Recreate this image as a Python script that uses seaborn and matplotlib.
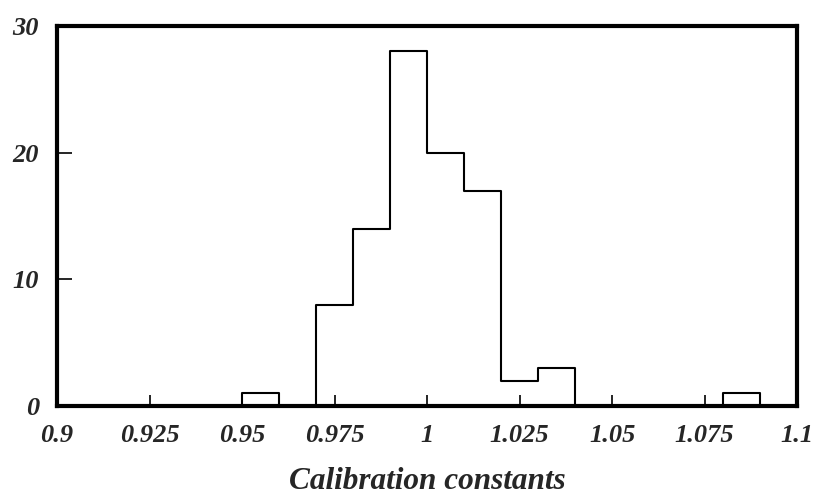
import numpy as np
import pandas as pd
import seaborn as sns
import matplotlib
matplotlib.use("Agg")
import matplotlib.pyplot as plt

# histogram counts (bin width 0.01)
bin_left = [0.95, 0.97, 0.98, 0.99, 1.00, 1.01, 1.02, 1.03, 1.08]
counts = [1, 8, 14, 28, 20, 17, 2, 3, 1]
x_ticks = [0.9, 0.925, 0.95, 0.975, 1.0, 1.025, 1.05, 1.075, 1.1]
x_tick_labels = ["0.9", "0.925", "0.95", "0.975", "1", "1.025", "1.05", "1.075", "1.1"]
y_ticks = [0, 10, 20, 30]

sns.set_style("white")
plt.rcParams["font.family"] = ["Liberation Serif", "DejaVu Serif"]

df = pd.DataFrame({"value": np.array(bin_left) + 0.005, "count": counts})

fig = plt.figure(figsize=(8.15, 4.97), dpi=100)
ax = fig.add_axes([0.070, 0.183, 0.908, 0.765])

sns.histplot(data=df, x="value", weights="count", binwidth=0.01, binrange=(0.9, 1.1),
             element="step", fill=False, color="black", linewidth=1.5, ax=ax)

ax.set_xlim(0.9, 1.1)
ax.set_ylim(0, 30)
ax.set_xticks(x_ticks)
ax.set_xticklabels(x_tick_labels)
ax.set_yticks(y_ticks)
ax.tick_params(axis="x", direction="in", length=8, width=1.2, color="black",
               labelsize=19, pad=13, bottom=True, top=False)
ax.tick_params(axis="y", direction="in", length=11, width=1.2, color="black",
               labelsize=19, pad=13, left=True, right=False)
for lab in ax.get_xticklabels() + ax.get_yticklabels():
    lab.set_fontweight("bold")
    lab.set_fontstyle("italic")

for sp in ax.spines.values():
    sp.set_linewidth(3)
    sp.set_color("black")

ax.set_ylabel("")
ax.set_xlabel("Calibration constants", fontsize=22.5, fontweight="bold",
              fontstyle="italic", labelpad=14)

fig.savefig("out.png", dpi=100)
